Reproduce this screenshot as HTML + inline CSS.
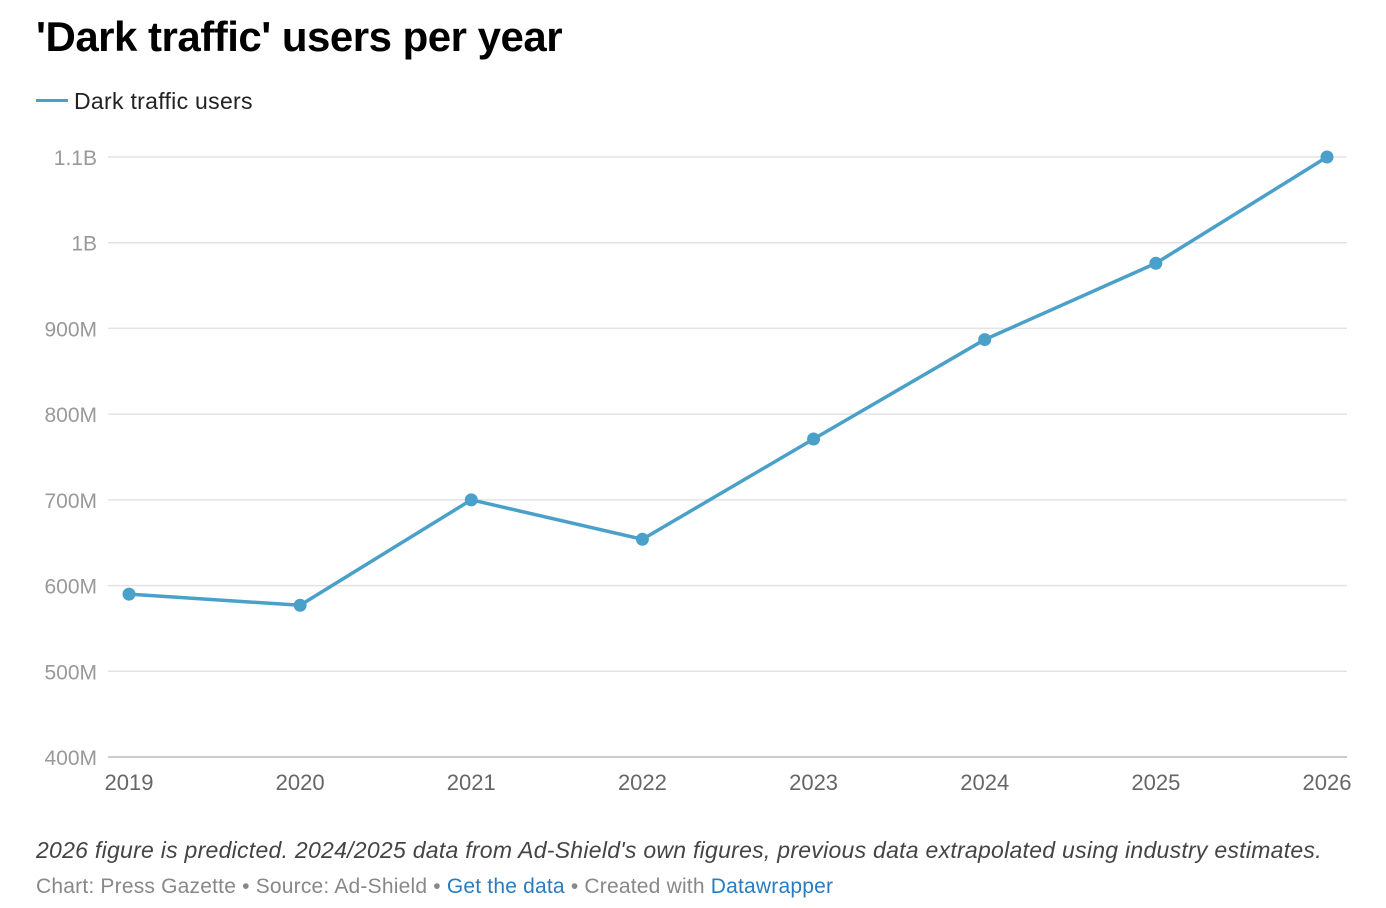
<!DOCTYPE html>
<html><head><meta charset="utf-8"><style>
body{margin:0;background:#fff;font-family:"Liberation Sans",sans-serif;width:1386px;height:908px;overflow:hidden;position:relative}
.t{position:absolute;white-space:nowrap}
</style></head><body>
<div class="t" style="left:36px;top:13px;font-size:42px;font-weight:bold;color:#000;letter-spacing:-0.5px">'Dark traffic' users per year</div>
<div class="t" style="left:36px;top:88px;font-size:23px;color:#222;letter-spacing:0.3px">
<span style="display:inline-block;width:32px;height:3px;background:#4aa0c9;vertical-align:middle;margin-right:6px;position:relative;top:-2px"></span>Dark traffic users</div>
<svg class="t" style="left:0;top:0" width="1386" height="908">
<g id="grid"></g><g id="xt"></g><path id="line" fill="none" stroke="#4aa0c9" stroke-width="3.5" stroke-linejoin="round"/><g id="pts"></g>
</svg>
<div class="t" style="left:36px;top:837px;font-size:23px;font-style:italic;color:#444;letter-spacing:0.27px">2026 figure is predicted. 2024/2025 data from Ad-Shield's own figures, previous data extrapolated using industry estimates.</div>
<div class="t" style="left:36px;top:875px;font-size:21px;color:#888;letter-spacing:0.2px">Chart: Press Gazette • Source: Ad-Shield • <span style="color:#2a7bc0">Get the data</span> • Created with <span style="color:#2a7bc0">Datawrapper</span></div>
<script>
const years=["2019","2020","2021","2022","2023","2024","2025","2026"];
const users=[590,577,700,654,771,887,976,1100];
const yTicks=[400,500,600,700,800,900,1000,1100];
const yTickLabels=["400M","500M","600M","700M","800M","900M","1B","1.1B"];
const NS="http://www.w3.org/2000/svg";
const x=i=>129+i*(1327-129)/(years.length-1);
const y=v=>757-(v-400)*(600/700);
function mk(t,a,p){const e=document.createElementNS(NS,t);for(const k in a)e.setAttribute(k,a[k]);p.appendChild(e);return e;}
const g=document.getElementById('grid');
yTicks.forEach((v,i)=>{
 const l=mk('line',{x1:108,x2:1347,y1:y(v),y2:y(v),stroke:i==0?'#bbb':'#e3e3e3','stroke-width':1.5},g);
 
 
 const t=mk('text',{x:97,y:y(v)+8,'text-anchor':'end','font-size':21,fill:'#999','font-family':'Liberation Sans, sans-serif'},g);
 t.textContent=yTickLabels[i];
 
 
});
const xt=document.getElementById('xt');
years.forEach((yr,i)=>{
 const t=mk('text',{x:x(i),y:790,'text-anchor':'middle','font-size':22,fill:'#666','font-family':'Liberation Sans, sans-serif'},xt);
 t.textContent=yr;
 
 
});
const line=document.getElementById('line');
line.setAttribute('d',users.map((v,i)=>(i?'L':'M')+x(i)+','+y(v)).join(''));


const pts=document.getElementById('pts');
users.forEach((v,i)=>{
 const c=mk('circle',{cx:x(i),cy:y(v),r:6.5,fill:'#4aa0c9'},pts);
 
 
});
</script>
</body></html>
